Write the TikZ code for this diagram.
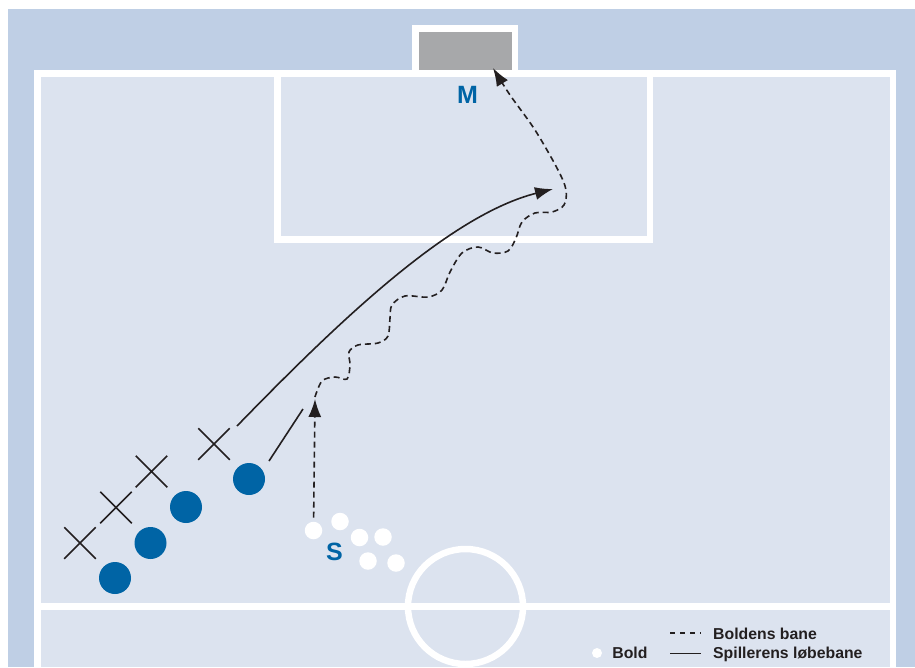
\documentclass[tikz,border=0pt]{standalone}
\usepackage{fontspec}
\setmainfont{Liberation Sans}
\usepackage{xcolor}
\usepackage{tikz}
\usetikzlibrary{arrows.meta,positioning,shapes.misc}

\definecolor{pitchblue}{HTML}{BFCFE5}
\definecolor{fieldfill}{HTML}{DCE3EF}
\definecolor{teamblue}{HTML}{0064A5}
\definecolor{goalgray}{HTML}{A7A8AA}
\definecolor{ink}{HTML}{231F20}

\begin{document}
\begin{tikzpicture}[x=1pt, y=-1pt,
    fieldline/.style={draw=white, line width=6.5pt},
    player/.style={circle, fill=teamblue, minimum size=32pt, inner sep=0pt},
    defender/.style={cross out, draw=ink, line width=1.5pt, minimum size=30pt, inner sep=0pt},
    ball/.style={circle, fill=white, minimum size=17.5pt, inner sep=0pt},
    tag/.style={text=teamblue, font=\fontsize{25}{30}\selectfont\bfseries, anchor=base, inner sep=0pt},
    run/.style={draw=ink, line width=1.6pt},
    pass/.style={draw=ink, line width=1.6pt, dash pattern=on 6pt off 4pt},
    tip/.style={-{Latex[length=18pt, width=13pt]}},
    legtext/.style={font=\fontsize{15.8}{19}\selectfont\bfseries, text=ink, anchor=base west, inner sep=0pt}]
    \useasboundingbox (0,0) rectangle (915,667);
    % background and pitch
    \fill[pitchblue] (8,9) rectangle (915,667);
    \fill[fieldfill] (37.5,73.5) rectangle (893,667);
    \draw[fieldline] (37.5,667) -- (37.5,73.5) -- (893,73.5) -- (893,667);
    \draw[fieldline] (37.5,606.5) -- (893,606.5);
    \draw[fieldline] (465.5,606.5) circle[radius=57.5];
    \draw[fieldline] (277.5,73.5) rectangle (650,239.5);
    \draw[fieldline, fill=goalgray] (415.5,28.5) rectangle (515,73.5);

    % labels
    \node[tag] (keeper) at (467.5,103) {M};
    \node[tag] (server) at (334.5,560) {S};

    % attackers and defenders
    \node[player] (p1) at (115,578) {};
    \node[player] (p2) at (150.5,543) {};
    \node[player] (p3) at (186,507) {};
    \node[player] (p4) at (249,479) {};
    \node[defender] (d1) at (80,543) {};
    \node[defender] (d2) at (116,507.5) {};
    \node[defender] (d3) at (151.5,471.5) {};
    \node[defender] (d4) at (214,444) {};

    % balls
    \node[ball] (b1) at (313.5,530.5) {};
    \node[ball] (b2) at (340,521.5) {};
    \node[ball] (b3) at (359.5,537.5) {};
    \node[ball] (b4) at (383,537) {};
    \node[ball] (b5) at (368,561) {};
    \node[ball] (b6) at (396,563) {};

    % paths
    \coordinate (runA) at (269,461);
    \coordinate (runB) at (303,409);
    \coordinate (curveA) at (237,426);
    \coordinate (curveB) at (553,189);
    \coordinate (shot) at (315,399);
    \draw[run] (runA) -- (runB);
    \draw[run, tip] (curveA) .. controls (340,320) and (450,215) .. (curveB);
    \draw[pass, shorten <=4pt, tip] (b1) -- (shot);
    \draw[pass, tip] plot[smooth, tension=0.55] coordinates {
        (315,397) (322,381) (335,377) (347,379) (350,365) (349,352) (358,345) (378,343)
        (388,336) (390,318) (392,305) (405,296) (428,297) (442,290) (450,272) (462,253)
        (478,247) (493,253) (508,251) (516,238) (522,222) (535,213) (552,212) (564,205)
        (566,190) (558,170) (535,130) (510,95) (493,68)};

    % legend
    \node[circle, fill=white, minimum size=10pt, inner sep=0pt] (ldot) at (597,653) {};
    \node[legtext, anchor=west, right=10pt of ldot] (lbold) {Bold};
    \node[legtext] (lpass) at (713,639) {Boldens bane};
    \node[legtext] (lrun) at (713,658.5) {Spillerens løbebane};
    \coordinate (lpassA) at (670,633);
    \coordinate (lpassB) at (701,633);
    \coordinate (lrunA) at (670,653.5);
    \coordinate (lrunB) at (701,653.5);
    \draw[ink, line width=1.3pt, dash pattern=on 4.5pt off 5.5pt] (lpassA) -- (lpassB);
    \draw[run] (lrunA) -- (lrunB);
\end{tikzpicture}
\end{document}
